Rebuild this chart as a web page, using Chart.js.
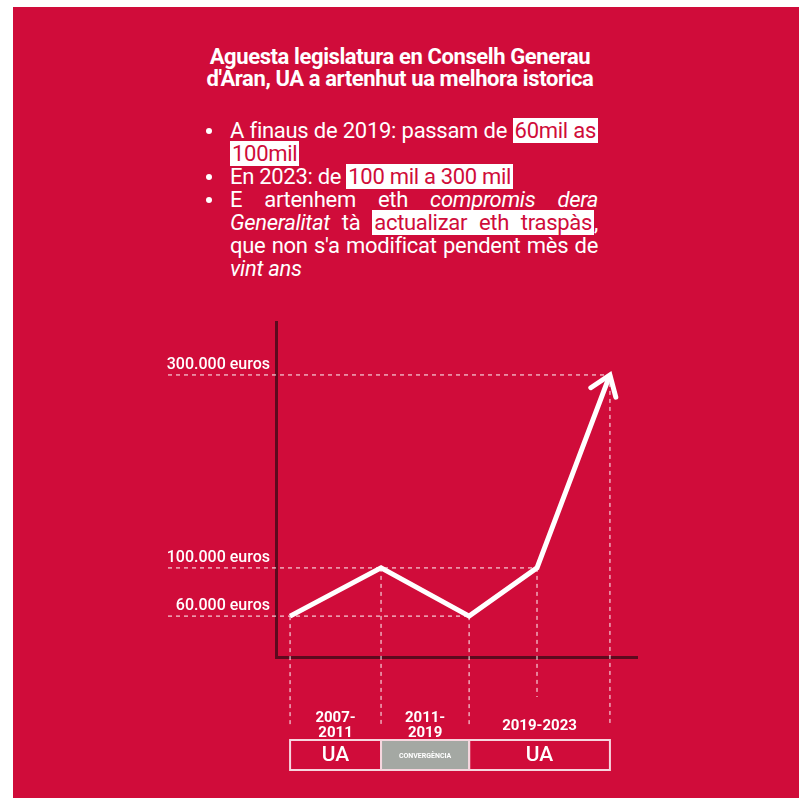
<!DOCTYPE html>
<html>
<head>
<meta charset="utf-8">
<script src="https://cdn.jsdelivr.net/npm/chart.js@4.4.1/dist/chart.umd.min.js"></script>
<style>
  html, body { margin: 0; padding: 0; background: #fff; }
  body { width: 799px; height: 798px; position: relative; overflow: hidden; font-family: Roboto, sans-serif; }
  #panel { position: absolute; left: 13px; top: 7px; right: 0; bottom: 0; background: #d00c3a; }
  #title { position: absolute; left: 180px; top: 46px; width: 440px; text-align: center; color: #fff;
           font-weight: 700; font-size: 22px; line-height: 22px; letter-spacing: -0.4px; }
  #notes { position: absolute; left: 230px; top: 119px; width: 368px; color: #fff;
           font-size: 22px; line-height: 23px; letter-spacing: -0.3px; }
  #notes div { white-space: nowrap; }
  #notes .j { text-align: justify; text-align-last: justify; }
  #notes .b { position: relative; }
  #notes .b::before { content: ''; position: absolute; left: -24px; top: 9px; width: 6px; height: 6px;
                      border-radius: 50%; background: #fff; }
  mark { background: #fff; color: #d00c3a; padding: 0 2px; }
  #wrap { position: absolute; left: 150px; top: 300px; width: 500px; height: 490px; }
</style>
</head>
<body>
<div id="panel"></div>
<div id="title">Aguesta legislatura en Conselh Generau<br>d'Aran, UA a artenhut ua melhora istorica</div>
<div id="notes">
  <div class="b j">A finaus de 2019: passam de <mark>60mil as</mark></div>
  <div><mark>100mil</mark></div>
  <div class="b">En 2023: de <mark>100 mil a 300 mil</mark></div>
  <div class="b j">E artenhem eth <i>compromis dera</i></div>
  <div class="j"><i>Generalitat</i> tà <mark>actualizar eth traspàs</mark>,</div>
  <div class="j">que non s'a modificat pendent mès de</div>
  <div><i>vint ans</i></div>
</div>
<div id="wrap"><canvas id="chart-fons"></canvas></div>
<script>
// input data hear !!
const years = [2007, 2011, 2019, 2020, 2023];
const funding = [60000, 100000, 60000, 100000, 300000];
const yTicks = [60000, 100000, 300000];
const yTickLabels = ['60.000 euros', '100.000 euros', '300.000 euros'];
const periodStart = [2007, 2011, 2019];
const periodEnd = [2011, 2019, 2023];
const periodYears = [['2007-', '2011'], ['2011-', '2019'], ['2019-2023']];
const periodParty = ['UA', 'CONVERGÈNCIA', 'UA'];

const axisColor = '#5c0a1e';

// linear scale with a broken (piecewise) mapping, like the hand drawn axis
class SegmentedScale extends Chart.LinearScale {
    static id = 'segmented';
    static defaults = Chart.LinearScale.defaults;
    getPixelForValue(v) {
        if (v === null || v === undefined || isNaN(v)) return NaN;
        const s = this.options.stopValues, f = this.options.stopFractions;
        let i = 1;
        while (i < s.length - 1 && v > s[i]) i++;
        const d = f[i - 1] + (v - s[i - 1]) / (s[i] - s[i - 1]) * (f[i] - f[i - 1]);
        return this.getPixelForDecimal(d);
    }
    getValueForPixel(p) {
        const d = this.getDecimalForPixel(p);
        const s = this.options.stopValues, f = this.options.stopFractions;
        let i = 1;
        while (i < f.length - 1 && d > f[i]) i++;
        return s[i - 1] + (d - f[i - 1]) / (f[i] - f[i - 1]) * (s[i] - s[i - 1]);
    }
}
Chart.register(SegmentedScale);

// dashed guide lines from the labels / to the periods
const guides = {
    id: 'guides',
    beforeDatasetsDraw(chart) {
        const { ctx, chartArea } = chart;
        const x = chart.scales.x, y = chart.scales.y;
        ctx.save();
        ctx.strokeStyle = 'rgba(255,255,255,0.65)';
        ctx.lineWidth = 1.5;
        ctx.setLineDash([4, 4]);
        yTicks.forEach(v => {
            const last = funding.lastIndexOf(v);
            const py = y.getPixelForValue(v);
            ctx.beginPath();
            ctx.moveTo(y.left + 18, py);
            ctx.lineTo(x.getPixelForValue(years[last]), py);
            ctx.stroke();
        });
        years.forEach((yr, i) => {
            const edge = periodStart.includes(yr) || periodEnd.includes(yr);
            const px = x.getPixelForValue(yr);
            ctx.beginPath();
            ctx.moveTo(px, y.getPixelForValue(funding[i]));
            ctx.lineTo(px, chartArea.bottom + (edge ? 70 : 40));
            ctx.stroke();
        });
        ctx.restore();
    }
};

// arrow head on the last segment
const arrow = {
    id: 'arrow',
    afterDatasetsDraw(chart) {
        const ctx = chart.ctx;
        const pts = chart.getDatasetMeta(0).data;
        const a = pts[pts.length - 2], b = pts[pts.length - 1];
        const ang = Math.atan2(b.y - a.y, b.x - a.x);
        ctx.save();
        ctx.strokeStyle = '#fff';
        ctx.lineWidth = 5;
        ctx.lineCap = 'round';
        ctx.lineJoin = 'miter';
        ctx.beginPath();
        ctx.moveTo(b.x - 23 * Math.cos(ang - 0.62), b.y - 23 * Math.sin(ang - 0.62));
        ctx.lineTo(b.x, b.y);
        ctx.lineTo(b.x - 23 * Math.cos(ang + 0.62), b.y - 23 * Math.sin(ang + 0.62));
        ctx.stroke();
        ctx.restore();
    }
};

// year labels + party boxes under the axis
const periods = {
    id: 'periods',
    afterDraw(chart) {
        const { ctx, chartArea } = chart;
        const x = chart.scales.x;
        const top = chartArea.bottom + 83, h = 30;
        ctx.save();
        ctx.textAlign = 'center';
        ctx.textBaseline = 'middle';
        periodStart.forEach((s, i) => {
            const x0 = x.getPixelForValue(s), x1 = x.getPixelForValue(periodEnd[i]);
            const cx = (x0 + x1) / 2;
            if (periodParty[i] !== 'UA') {
                ctx.fillStyle = '#a4a8a3';
                ctx.fillRect(x0, top, x1 - x0, h);
            }
            ctx.strokeStyle = '#f6d6de';
            ctx.lineWidth = 2;
            ctx.strokeRect(x0, top, x1 - x0, h);
            ctx.fillStyle = '#fff';
            ctx.font = periodParty[i] === 'UA' ? '500 21px Roboto' : 'bold 7px Roboto';
            ctx.fillText(periodParty[i], cx, top + h / 2 + 1);
            ctx.font = 'bold 15px Roboto';
            const lines = periodYears[i];
            lines.forEach((t, j) => {
                ctx.fillText(t, cx, chartArea.bottom + 69 + (j - (lines.length - 1) / 2) * 15);
            });
        });
        ctx.restore();
    }
};

const fons = document.getElementById('chart-fons');
new Chart(fons, {
    type: 'line',
    data: {
        datasets: [{
            label: 'Fons',
            data: years.map((yr, i) => ({ x: yr, y: funding[i] })),
            borderColor: '#fff',
            borderWidth: 5,
            borderJoinStyle: 'miter',
            pointRadius: 0,
            tension: 0,
            fill: false,
        }]
    },
    options: {
        responsive: true,
        maintainAspectRatio: false,
        animation: false,
        layout: { padding: { top: 22, right: 13, left: 0, bottom: 0 } },
        plugins: {
            legend: { display: false },
            tooltip: { enabled: false }
        },
        scales: {
            x: {
                type: 'segmented',
                min: 2006.6,
                max: 2024.6,
                stopValues: [2006.6, 2007, 2011, 2019, 2020, 2023, 2024.6],
                stopFractions: [0, 0.039, 0.291, 0.535, 0.723, 0.925, 1],
                grid: { display: false },
                ticks: { display: false },
                border: { color: axisColor, width: 3 },
                afterFit: s => { s.height = 133; }
            },
            y: {
                type: 'segmented',
                min: 0,
                max: 340000,
                stopValues: [0, 60000, 100000, 300000, 340000],
                stopFractions: [0, 0.122, 0.266, 0.842, 1],
                afterBuildTicks: s => { s.ticks = yTicks.map(v => ({ value: v })); },
                ticks: {
                    callback: (v, i) => yTickLabels[i],
                    color: '#fff',
                    font: { family: 'Roboto', size: 16, weight: '500' },
                    padding: -2,
                    labelOffset: -10
                },
                grid: { display: false },
                border: { color: axisColor, width: 3 },
                afterFit: s => { s.width = 126; }
            }
        }
    },
    plugins: [guides, arrow, periods]
});
</script>
</body>
</html>
